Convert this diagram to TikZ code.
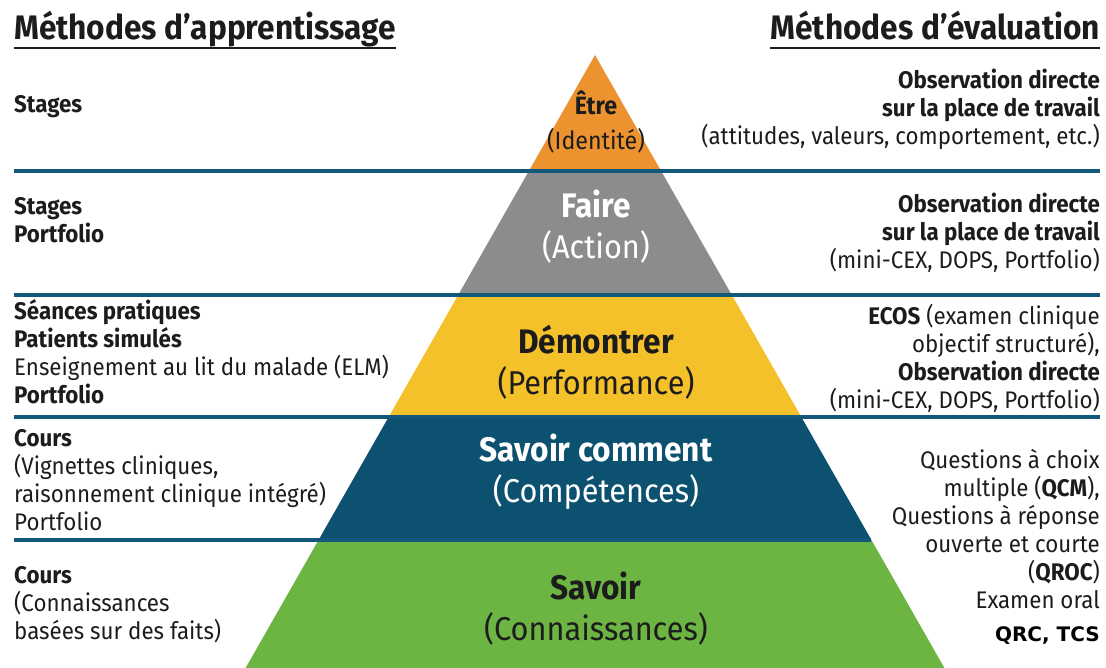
\documentclass[tikz,border=0pt]{standalone}
\usepackage{fontspec}
\setmainfont{Fira Sans}[FakeStretch=0.93]
\newfontfamily\qrcfont{DejaVu Sans}
\definecolor{etre}{HTML}{EC922F}
\definecolor{faire}{HTML}{8C8C8C}
\definecolor{demo}{HTML}{F5C12B}
\definecolor{comment}{HTML}{0C5170}
\definecolor{savoir}{HTML}{6CB543}
\definecolor{rulecol}{HTML}{13587A}
\definecolor{ink}{HTML}{1C1C1C}
\newcommand{\bodyfont}{\fontsize{24}{28}\selectfont}
\newcommand{\headfont}{\fontsize{34}{38}\selectfont\bfseries}
\newcommand{\lvlfont}{\fontsize{33}{41}\selectfont}
\newcommand{\lvlname}[1]{{\fontsize{34}{41}\selectfont\bfseries #1}}
\tikzset{
  lefttxt/.style={anchor=west, align=left, inner sep=0pt, font=\bodyfont, text=ink},
  righttxt/.style={anchor=east, align=right, inner sep=0pt, font=\bodyfont, text=ink},
  headtxt/.style={inner sep=0pt, font=\headfont, text=ink},
  lvl/.style={align=center, inner sep=0pt, font=\lvlfont}
}

\begin{document}
\begin{tikzpicture}[x=1pt,y=-1pt]
		\useasboundingbox (0,0) rectangle (1106,668);
		% pyramid levels
		\foreach \ya/\yb/\col in {55/171/etre, 171/295/faire, 295/417/demo, 417/540/comment, 540/668/savoir}
		\fill[\col] ({595-0.57*(\ya-55)},\ya) -- ({595+0.57*(\ya-55)},\ya) -- ({595+0.57*(\yb-55)},\yb) -- ({595-0.57*(\yb-55)},\yb) -- cycle;
		% separating rules
		\foreach \y in {171,295,417}
		\draw[rulecol, line width=4pt] (14,\y) -- (1100,\y);
		\draw[rulecol, line width=4pt] (14,540) -- ({595+0.57*485},540);
		% headers
		\node[headtxt, anchor=base west] (hLeft) at (14,40) {Méthodes d’apprentissage};
		\node[headtxt, anchor=base east] (hRight) at (1100,40) {Méthodes d’évaluation};
		\draw[ink, line width=1.5pt] ([yshift=-8pt]hLeft.base west) -- ([yshift=-8pt]hLeft.base east);
		\draw[ink, line width=1.5pt] ([yshift=-8pt]hRight.base west) -- ([yshift=-8pt]hRight.base east);
		% level labels
		\node[lvl, font=\fontsize{25}{35}\selectfont, text=ink] (etreL) at (596,122) {\textbf{Être}\\(Identité)};
		\node[lvl, text=white] (faireL) at (596,227) {\lvlname{Faire}\\(Action)};
		\node[lvl, text=ink] (demoL) at (596,362) {\lvlname{Démontrer}\\(Performance)};
		\node[lvl, text=white] (commentL) at (596,472) {\lvlname{Savoir comment}\\(Compétences)};
		\node[lvl, text=ink] (savoirL) at (596,609) {\lvlname{Savoir}\\(Connaissances)};
		% learning methods
		\node[lefttxt] (app1) at (14,107) {\textbf{Stages}};
		\node[lefttxt] (app2) at (14,220) {\textbf{Stages}\\\textbf{Portfolio}};
		\node[lefttxt] (app3) at (14,352) {\textbf{Séances pratiques}\\\textbf{Patients simulés}\\Enseignement au lit du malade (ELM)\\\textbf{Portfolio}};
		\node[lefttxt] (app4) at (14,480) {\textbf{Cours}\\(Vignettes cliniques,\\raisonnement clinique intégré)\\Portfolio};
		\node[lefttxt] (app5) at (14,605) {\textbf{Cours}\\(Connaissances\\basées sur des faits)};
		% assessment methods
		\node[righttxt] (eval1) at (1100,109) {\textbf{Observation directe}\\\textbf{sur la place de travail}\\(attitudes, valeurs, comportement, etc.)};
		\node[righttxt] (eval2) at (1100,233) {\textbf{Observation directe}\\\textbf{sur la place de travail}\\(mini-CEX, DOPS, Portfolio)};
		\node[righttxt] (eval3) at (1100,358) {\textbf{ECOS} (examen clinique\\objectif structuré),\\\textbf{Observation directe}\\(mini-CEX, DOPS, Portfolio)};
		\node[righttxt] (eval4) at (1100,529) {Questions à choix\\multiple (\textbf{QCM}),\\Questions à réponse\\ouverte et courte\\(\textbf{QROC})\\Examen oral};
		\node[righttxt, font=\qrcfont\fontsize{20}{24}\selectfont\bfseries, text=black] (eval5) at (1100,636) {QRC, TCS};
\end{tikzpicture}
\end{document}
